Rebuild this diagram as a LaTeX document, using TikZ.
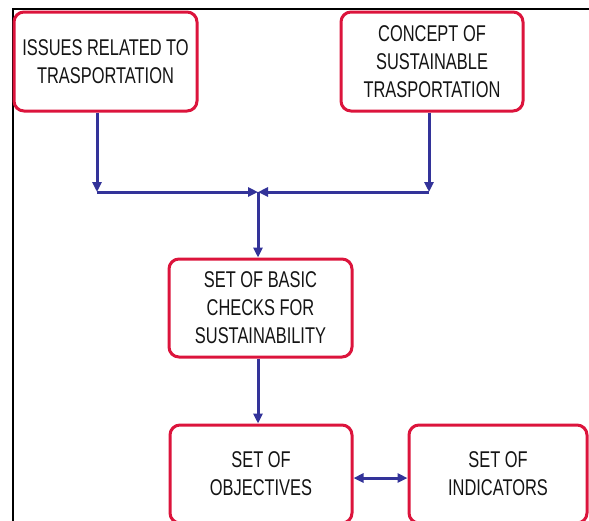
\documentclass[tikz,border=0pt]{standalone}
\usepackage{fontspec}
\setmainfont[FakeStretch=0.72]{Liberation Sans}
\usetikzlibrary{arrows.meta}
\definecolor{boxred}{RGB}{220,20,60}
\definecolor{lineblue}{RGB}{51,51,153}
\definecolor{txt}{RGB}{20,20,20}
\tikzset{
  box/.style={draw=boxred, line width=3pt, rounded corners=10pt, align=center,
    text=txt, font=\fontsize{22.8}{28}\selectfont, inner sep=0pt},
  arr/.style={draw=lineblue, line width=3pt, -{Triangle[length=10pt,width=9pt]}},
  arrtwo/.style={draw=lineblue, line width=3pt, {Triangle[length=10pt,width=9pt]}-{Triangle[length=10pt,width=9pt]}}
}
\begin{document}
\begin{tikzpicture}[x=1pt,y=-1pt]
\useasboundingbox (0,0) rectangle (589,520);
\clip (0,0) rectangle (589,520);
\draw[line width=2pt] (13,530) -- (13,9) -- (600,9);
\node[box, minimum width=183pt, minimum height=99pt] (b1) at (105.5,61.5) {ISSUES RELATED TO\\TRASPORTATION};
\node[box, minimum width=182pt, minimum height=99pt] (b2) at (432,61.5) {CONCEPT OF\\SUSTAINABLE\\TRASPORTATION};
\node[box, minimum width=183pt, minimum height=98pt] (b3) at (260.5,308) {SET OF BASIC\\CHECKS FOR\\SUSTAINABILITY};
\node[box, minimum width=182pt, minimum height=98pt] (b4) at (261,474) {SET OF\\OBJECTIVES};
\node[box, minimum width=178pt, minimum height=98pt] (b5) at (498,474) {SET OF\\INDICATORS};
\coordinate (c1) at (97,192);
\coordinate (c2) at (429,192);
\coordinate (join) at (258,192);
\draw[arr] (b1.south -| c1) -- (c1);
\draw[arr] (c1) -- (join);
\draw[arr] (b2.south -| c2) -- (c2);
\draw[arr] (c2) -- (join);
\draw[arr] (join) -- (b3.north -| join);
\draw[arr] (b3.south -| join) -- (b4.north -| join);
\draw[arrtwo] ([yshift=-4pt]b4.east) -- ([yshift=-4pt]b5.west);
\end{tikzpicture}
\end{document}
